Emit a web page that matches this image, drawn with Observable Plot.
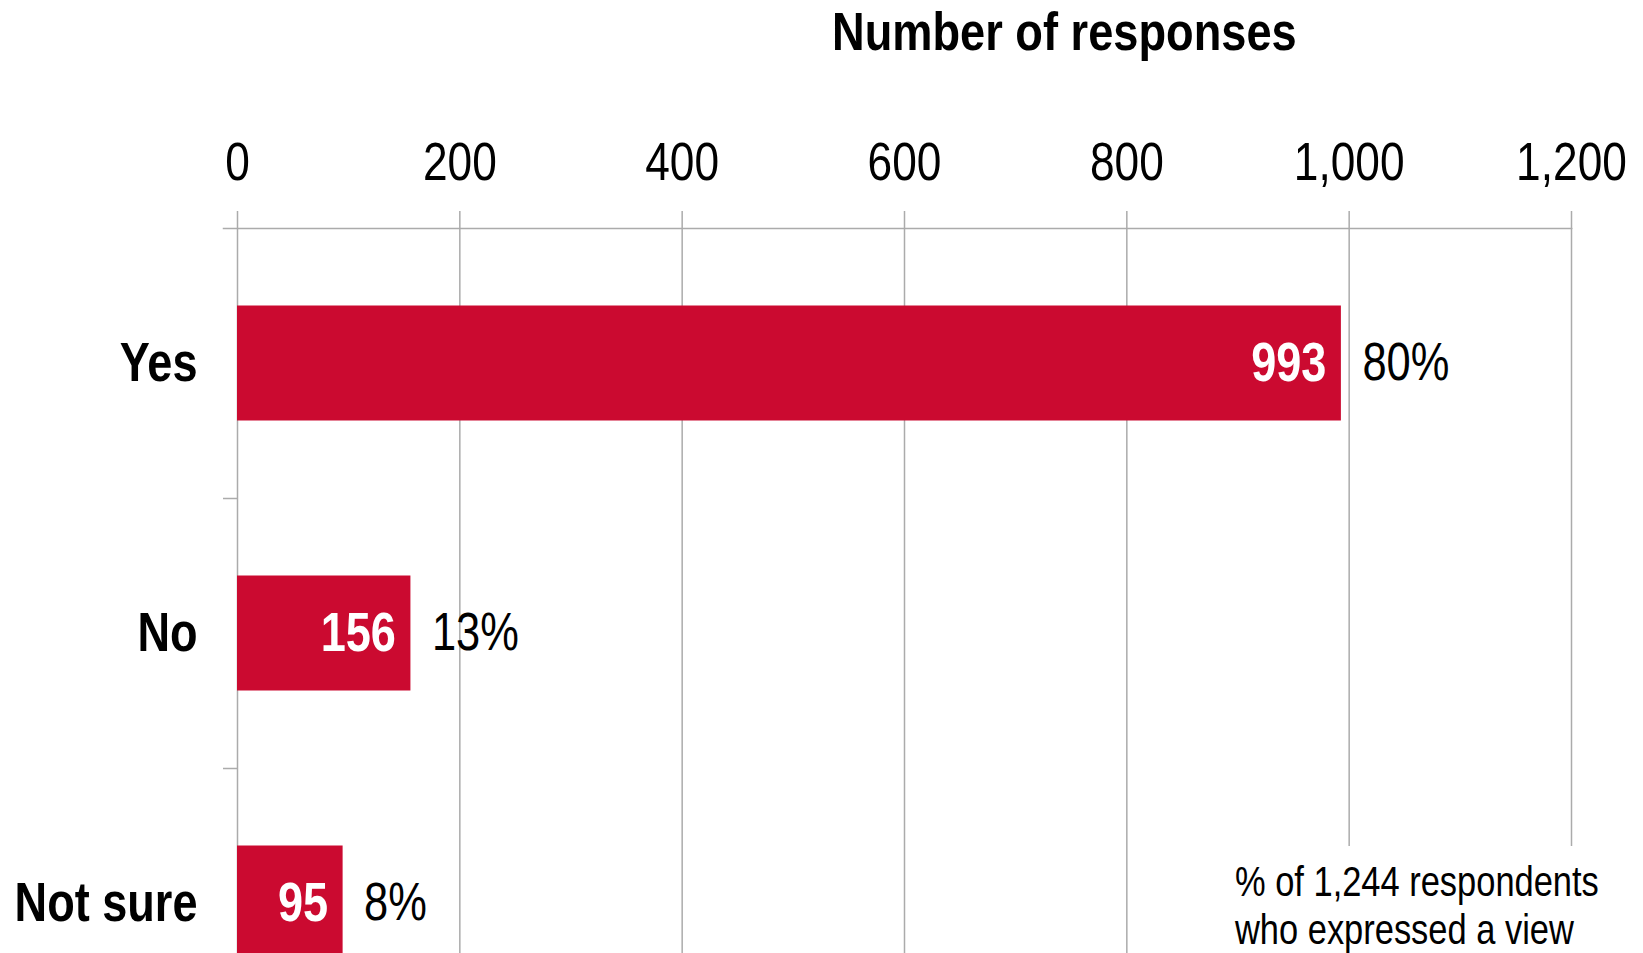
<!DOCTYPE html>
<html>
<head>
<meta charset="utf-8">
<script src="https://cdn.jsdelivr.net/npm/d3@7"></script>
<script src="https://cdn.jsdelivr.net/npm/@observablehq/plot@0.6"></script>
<style>
  html, body { margin: 0; padding: 0; background: #fff; overflow: hidden; }
  body { position: relative; width: 1643px; height: 953px; font-family: "Liberation Sans", Arial, sans-serif; color: #000; }
  .narrow { transform: scaleX(0.82); transform-origin: 0 0; }
  #title { position: absolute; left: 832px; top: 0px; font-size: 53px; font-weight: bold; line-height: 64px; white-space: nowrap; transform: scaleX(0.853); transform-origin: 0 0; }
  #notebox { position: absolute; left: 1225px; top: 846px; width: 420px; height: 120px; background: #fff; }
  #note { position: absolute; left: 1235px; top: 858px; font-size: 42px; line-height: 48px; white-space: nowrap; }
  #chart { position: absolute; left: 0; top: 0; }
</style>
</head>
<body>
<div id="chart"></div>
<div id="title">Number of responses</div>
<div id="notebox"></div>
<div id="note" class="narrow">% of 1,244 respondents<br>who expressed a view</div>
<script>
const categories = ["Yes", "No", "Not sure"];
const counts = [993, 156, 95];
const percents = ["80%", "13%", "8%"];
const xTicks = [0, 200, 400, 600, 800, 1000, 1200];

const data = categories.map((c, i) => ({category: c, count: counts[i], pct: percents[i]}));

const FONT = '"Liberation Sans", Arial, sans-serif';
const GRID = "#ababab";
const RED = "#CB0A30";

const height = 1038, marginTop = 228, marginBottom = 0;
const step = (height - marginTop - marginBottom) / categories.length;

const chart = Plot.plot({
  width: 1643,
  height,
  marginTop,
  marginBottom,
  marginLeft: 237,
  marginRight: 72,
  style: {fontFamily: FONT, background: "transparent", color: "#000", overflow: "visible"},
  x: {domain: [0, 1200], axis: null},
  y: {domain: categories, padding: 0, axis: null},
  marks: [
    Plot.ruleX(xTicks, {stroke: GRID, strokeWidth: 1.5}),
    Plot.frame({anchor: "top", insetLeft: -14, stroke: GRID, strokeWidth: 1.5}),
    Plot.axisX({anchor: "top", ticks: xTicks, tickSize: 18, tickPadding: 31, fontSize: 54, stroke: GRID, strokeWidth: 1.5, tickFormat: d3.format(","), fill: "#000", label: null}),
    Plot.axisY({anchor: "left", tickSize: 0, tickPadding: 40, fontSize: 55, fontWeight: "bold", fill: "#000", label: null}),
    Plot.axisY(categories.slice(0, -1), {anchor: "left", tickSize: 14, text: null, dy: step / 2, stroke: GRID, strokeWidth: 1.5, label: null}),
    Plot.barX(data, {x: "count", y: "category", fill: RED, insetTop: 77.5, insetBottom: 77.5}),
    Plot.text(data, {x: "count", y: "category", text: d => String(d.count), textAnchor: "end", dx: -15, fill: "#fff", fontWeight: "bold", fontSize: 55}),
    Plot.text(data, {x: "count", y: "category", text: "pct", textAnchor: "start", dx: 21, fontSize: 53, fill: "#000"})
  ]
});
// emulate the narrow (Arial Narrow–like) face of the original by condensing each label horizontally around its anchor
d3.select(chart).selectAll("text").each(function() {
  const t = this.getAttribute("transform") || "";
  this.setAttribute("transform", (t + " scale(0.82,1)").trim());
});
document.getElementById("chart").append(chart);
</script>
</body>
</html>
